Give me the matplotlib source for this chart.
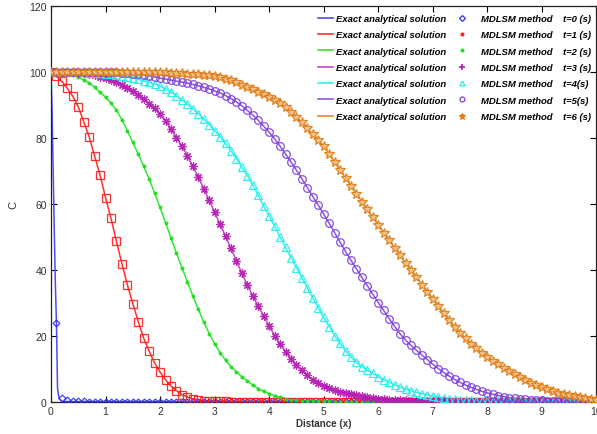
import numpy as np
import matplotlib
matplotlib.use("Agg")
import matplotlib.pyplot as plt
from matplotlib.lines import Line2D

plt.rcParams['font.family'] = ['Liberation Sans', 'DejaVu Sans']

# sampling grid of the MDLSM results (step 0.1)
x = np.linspace(0, 10, 101)

# t=0 exact solution is a near step, sampled finer near x=0
x_t0_line = [0, 0.02, 0.04, 0.06, 0.08, 0.1, 0.12, 0.15, 0.2, 10]
c_t0_line = [100, 88, 70, 52, 36, 23.7, 4, 0.8, 0, 0]

c_t0 = [100, 23.7, 1.2, 0.4, 0.2, 0.1, 0.1, 0, 0, 0,
        0, 0, 0, 0, 0, 0, 0, 0, 0, 0,
        0, 0, 0, 0, 0, 0, 0, 0, 0, 0,
        0, 0, 0, 0, 0, 0, 0, 0, 0, 0,
        0, 0, 0, 0, 0, 0, 0, 0, 0, 0,
        0, 0, 0, 0, 0, 0, 0, 0, 0, 0,
        0, 0, 0, 0, 0, 0, 0, 0, 0, 0,
        0, 0, 0, 0, 0, 0, 0, 0, 0, 0,
        0, 0, 0, 0, 0, 0, 0, 0, 0, 0,
        0, 0, 0, 0, 0, 0, 0, 0, 0, 0,
        0]

c_t1 = [100, 98.5, 97.0, 94.9, 92.5, 89.3, 84.8, 80.2, 74.4, 68.6,
        61.8, 55.5, 48.5, 41.8, 35.4, 29.7, 24.2, 19.2, 15.2, 11.7,
        8.9, 6.6, 4.7, 3.3, 2.1, 1.4, 0.8, 0.5, 0.3, 0.2,
        0.1, 0.1, 0.1, 0, 0, 0, 0, 0, 0, 0,
        0, 0, 0, 0, 0, 0, 0, 0, 0, 0,
        0, 0, 0, 0, 0, 0, 0, 0, 0, 0,
        0, 0, 0, 0, 0, 0, 0, 0, 0, 0,
        0, 0, 0, 0, 0, 0, 0, 0, 0, 0,
        0, 0, 0, 0, 0, 0, 0, 0, 0, 0,
        0, 0, 0, 0, 0, 0, 0, 0, 0, 0,
        0]

c_t2 = [100, 99.9, 99.7, 99.4, 99.0, 98.3, 97.5, 96.5, 95.2, 93.7,
        92.2, 90.5, 88.3, 85.4, 82.1, 78.5, 75.0, 71.3, 67.4, 63.2,
        58.8, 54.2, 49.6, 45.0, 40.6, 36.3, 32.1, 28.0, 24.1, 20.6,
        17.5, 14.8, 12.5, 10.6, 9.0, 7.5, 6.2, 5.0, 3.9, 3.1,
        2.4, 1.8, 1.3, 0.9, 0.6, 0.45, 0.3, 0.2, 0.15, 0.1,
        0.1, 0.05, 0, 0, 0, 0, 0, 0, 0, 0,
        0, 0, 0, 0, 0, 0, 0, 0, 0, 0,
        0, 0, 0, 0, 0, 0, 0, 0, 0, 0,
        0, 0, 0, 0, 0, 0, 0, 0, 0, 0,
        0, 0, 0, 0, 0, 0, 0, 0, 0, 0,
        0]

c_t3 = [100, 100, 99.9, 99.9, 99.8, 99.7, 99.5, 99.2, 98.9, 98.4,
        97.9, 97.4, 96.8, 96.0, 95.0, 94.0, 92.9, 91.7, 90.3, 88.8,
        87.1, 85.0, 82.6, 80.0, 77.4, 74.5, 71.3, 68.0, 64.5, 61.0,
        57.4, 53.7, 50.1, 46.4, 42.6, 38.9, 35.3, 32.0, 28.9, 25.9,
        22.9, 20.0, 17.4, 15.1, 13.0, 11.1, 9.4, 7.9, 6.6, 5.5,
        4.7, 4.0, 3.4, 3.0, 2.6, 2.2, 1.9, 1.6, 1.3, 1.1,
        0.9, 0.75, 0.6, 0.5, 0.4, 0.35, 0.3, 0.25, 0.2, 0.15,
        0.1, 0.1, 0.05, 0, 0, 0, 0, 0, 0, 0,
        0, 0, 0, 0, 0, 0, 0, 0, 0, 0,
        0, 0, 0, 0, 0, 0, 0, 0, 0, 0,
        0]

c_t4 = [100, 100, 100, 99.9, 99.9, 99.8, 99.8, 99.7, 99.6, 99.5,
        99.3, 99.1, 98.9, 98.6, 98.3, 98.0, 97.6, 97.2, 96.7, 96.2,
        95.6, 94.7, 93.7, 92.6, 91.4, 90.1, 88.7, 87.2, 85.6, 83.9,
        82.1, 80.2, 78.2, 76.0, 73.6, 71.0, 68.4, 65.6, 62.5, 59.2,
        56.2, 53.1, 49.9, 46.7, 43.6, 40.6, 37.5, 34.4, 31.4, 28.4,
        25.5, 22.7, 20.0, 17.6, 15.4, 13.5, 11.9, 10.6, 9.5, 8.5,
        7.5, 6.6, 5.8, 5.1, 4.4, 3.8, 3.3, 2.8, 2.4, 2.0,
        1.7, 1.4, 1.1, 0.9, 0.7, 0.6, 0.5, 0.4, 0.3, 0.25,
        0.2, 0.15, 0.1, 0.1, 0.1, 0.05, 0.05, 0, 0, 0,
        0, 0, 0, 0, 0, 0, 0, 0, 0, 0,
        0]

c_t5 = [100, 100, 100, 100, 100, 100, 100, 100, 100, 99.9,
        99.9, 99.9, 99.8, 99.7, 99.6, 99.4, 99.2, 99.0, 98.7, 98.4,
        98.0, 97.7, 97.4, 97.1, 96.8, 96.5, 96.1, 95.7, 95.2, 94.7,
        94.1, 93.5, 92.7, 91.8, 90.8, 89.6, 88.2, 86.8, 85.2, 83.4,
        81.6, 79.6, 77.4, 75.0, 72.6, 70.1, 67.5, 64.8, 62.1, 59.5,
        56.8, 54.0, 51.2, 48.3, 45.5, 42.8, 40.2, 37.6, 35.1, 32.5,
        30.0, 27.6, 25.1, 22.8, 20.5, 18.6, 17.0, 15.5, 14.1, 12.7,
        11.3, 10.0, 8.8, 7.7, 6.7, 5.8, 5.0, 4.3, 3.7, 3.1,
        2.6, 2.2, 1.8, 1.5, 1.2, 1.0, 0.8, 0.65, 0.5, 0.4,
        0.35, 0.3, 0.25, 0.2, 0.15, 0.12, 0.1, 0.08, 0.06, 0.05,
        0.05]

c_t6 = [100, 100, 100, 100, 100, 100, 100, 100, 100, 100,
        100, 100, 100, 100, 100, 100, 99.9, 99.9, 99.9, 99.9,
        99.9, 99.8, 99.7, 99.6, 99.5, 99.4, 99.3, 99.2, 99.0, 98.8,
        98.5, 98.2, 97.8, 97.3, 96.7, 96.0, 95.3, 94.6, 93.9, 93.1,
        92.3, 91.4, 90.4, 89.2, 87.8, 86.2, 84.6, 82.8, 81.0, 79.2,
        77.3, 75.0, 72.6, 70.2, 67.8, 65.4, 63.0, 60.6, 58.2, 55.8,
        53.5, 51.2, 48.9, 46.6, 44.3, 42.0, 39.8, 37.6, 35.4, 33.3,
        31.2, 29.0, 26.8, 24.7, 22.7, 20.8, 19.1, 17.5, 16.1, 14.8,
        13.6, 12.4, 11.3, 10.3, 9.3, 8.3, 7.3, 6.5, 5.6, 4.9,
        4.3, 3.7, 3.1, 2.6, 2.2, 1.9, 1.6, 1.3, 1.0, 0.8,
        0.6]

times = ["t=0 (s)", "t=1 (s)", "t=2 (s)", "t=3 (s)", "t=4(s)", "t=5(s)", "t=6 (s)"]
series = [c_t0, c_t1, c_t2, c_t3, c_t4, c_t5, c_t6]
colors = ['#2f2fff', '#ff1a1a', '#22dd22', '#b21cb2', '#22eeee', '#7b3ddf', '#e07b12']
line_colors = ['#4a4aff', '#ff3030', '#33e633', '#cc44cc', '#33f2f2', '#8f55e6', '#e8892a']
markers = ['D', 's', '.', (8, 2, 0), '^', 'o', '*']
msizes = [3.5, 5.5, 4, 6, 6, 5.5, 7]

fig = plt.figure(figsize=(5.97, 4.35), dpi=100)
ax = fig.add_axes([0.0854, 0.0747, 0.9136, 0.9103])

for i in range(7):
    if i == 0:
        ax.plot(x_t0_line, c_t0_line, color=line_colors[i], lw=1.1, zorder=2)
    else:
        ax.plot(x, series[i], color=line_colors[i], lw=1.1, zorder=2)
    face = 'none'
    if i == 2:
        face = colors[i]
    if i == 6:
        face = '#f3c48f'
    ax.plot(x, series[i], ls='none', marker=markers[i], ms=msizes[i],
            mec=colors[i], mfc=face, mew=0.9, alpha=0.9, zorder=3)

ax.set_xlim(0, 10)
ax.set_ylim(0, 120)
ax.set_xticks(range(0, 11))
ax.set_yticks(range(0, 121, 20))
ax.tick_params(direction='in', top=True, right=True, length=4, width=0.8,
               labelsize=7.5, labelcolor='#333333', pad=3)
for s in ax.spines.values():
    s.set_linewidth(0.9)
    s.set_color('#222222')

ax.set_xlabel("Distance (x)", fontsize=7, fontweight='bold', color='#333333', labelpad=2)
ax.set_ylabel("C", fontsize=8, color='#333333', labelpad=8)

# legend: analytical lines in one block, MDLSM markers in another
leg_font = dict(family='Liberation Sans', weight='bold', style='italic', size=6.8)
leg_markers = ['D', '.', '.', '+', '^', 'o', '*']
leg_ms = [3, 4, 4, 5, 3.5, 3.5, 4.5]
line_handles = [Line2D([], [], color=line_colors[i], lw=1.2) for i in range(7)]
marker_handles = []
for i in range(7):
    face = colors[i] if leg_markers[i] in ['.', '*'] else 'none'
    marker_handles.append(Line2D([], [], ls='none', marker=leg_markers[i], ms=leg_ms[i],
                                 mec=colors[i], mfc=face, mew=1.2 if i == 3 else 0.9))

leg1 = ax.legend(line_handles, ["Exact analytical solution"] * 7, loc='upper left',
                 bbox_to_anchor=(0.49, 0.979), frameon=False, prop=leg_font,
                 handlelength=1.6, handletextpad=0.3, labelspacing=0.78,
                 borderaxespad=0, borderpad=0)
ax.add_artist(leg1)
ax.legend(marker_handles, ["MDLSM method    " + t for t in times], loc='upper left',
          bbox_to_anchor=(0.7455, 0.979), frameon=False, prop=leg_font,
          handlelength=1.0, handletextpad=1.5, labelspacing=0.78,
          borderaxespad=0, borderpad=0)

fig.savefig("out.png", dpi=100)
